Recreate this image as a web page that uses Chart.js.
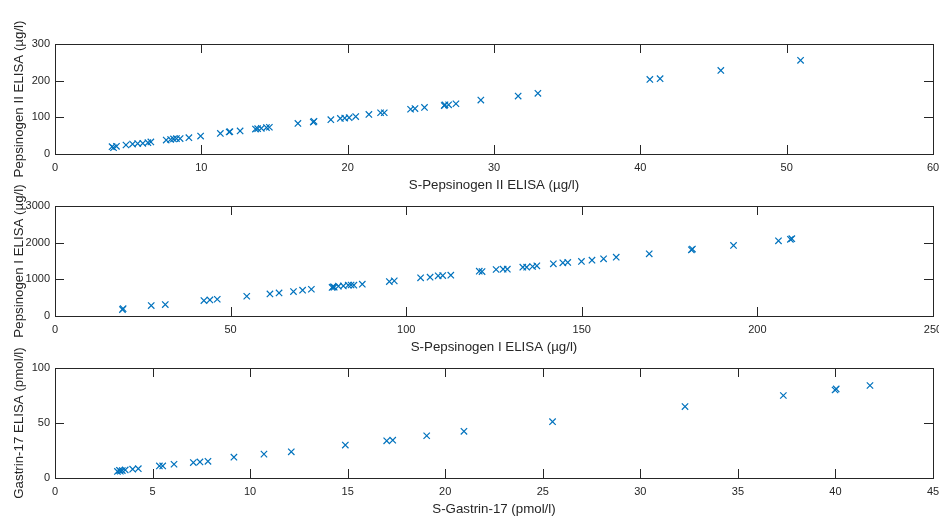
<!DOCTYPE html>
<html>
<head>
<meta charset="utf-8">
<script src="https://cdn.jsdelivr.net/npm/chart.js@4.4.0/dist/chart.umd.min.js"></script>
<style>
  html, body { margin: 0; padding: 0; background: #fff; overflow: hidden; }
  body { width: 939px; height: 518px; position: relative; }
  .panel { position: absolute; left: 0; width: 939px; height: 200px; }
</style>
</head>
<body>
<div class="panel" style="top:0px"><canvas id="chart1"></canvas></div>
<div class="panel" style="top:162px"><canvas id="chart2"></canvas></div>
<div class="panel" style="top:324px"><canvas id="chart3"></canvas></div>
<script>
// S-Pepsinogen II vs Pepsinogen II ELISA
const pg2X = [3.9, 4.0, 4.2, 4.85, 5.3, 5.65, 6.0, 6.35, 6.55, 7.6, 7.9, 8.1, 8.3, 8.55, 9.15, 9.95, 11.3, 11.9, 11.95, 12.65, 13.7, 13.85, 14.1, 14.45, 14.65, 16.6, 17.65, 17.7, 18.85, 19.5, 19.8, 20.1, 20.55, 21.45, 22.25, 22.5, 24.3, 24.6, 25.25, 26.6, 26.65, 26.9, 27.4, 29.1, 31.65, 33.0, 40.65, 41.35, 45.5, 50.95];
const pg2Y = [20, 17, 21, 24.5, 27, 28.5, 29, 31, 33, 38, 39.5, 41, 42, 42, 44.5, 49, 56, 60, 61, 63, 68, 69, 70, 72, 73, 83.5, 87, 89, 93.5, 97, 98, 99, 102, 108, 112.5, 112.5, 122, 124, 127, 132, 134, 134, 137, 147, 158, 165.5, 203.5, 205.5, 228, 255.5];

// S-Pepsinogen I vs Pepsinogen I ELISA
const pg1X = [19.2, 19.4, 27.4, 31.4, 42.4, 44.1, 46.2, 54.6, 61.2, 63.8, 67.9, 70.5, 73.0, 78.9, 79.2, 79.5, 80.7, 82.1, 83.5, 84.3, 85.1, 87.5, 95.2, 96.6, 104.1, 106.8, 109.1, 110.4, 112.7, 120.8, 121.6, 125.6, 127.6, 128.8, 133.2, 134.3, 136.0, 137.2, 141.9, 144.6, 146.0, 149.9, 152.9, 156.2, 159.8, 169.2, 181.2, 181.5, 193.2, 206.0, 209.4, 209.8];
const pg1Y = [175, 200, 284, 311, 421, 438, 457, 539, 602, 629, 666, 703, 730, 780, 795, 785, 812, 821, 840, 845, 840, 867, 940, 958, 1040, 1060, 1095, 1104, 1113, 1222, 1213, 1268, 1277, 1277, 1332, 1332, 1350, 1368, 1423, 1450, 1460, 1487, 1523, 1560, 1605, 1696, 1805, 1825, 1925, 2051, 2090, 2110];

// S-Gastrin-17 vs Gastrin-17 ELISA
const g17X = [3.2, 3.3, 3.35, 3.45, 3.6, 3.98, 4.27, 5.35, 5.52, 6.1, 7.09, 7.43, 7.84, 9.17, 10.71, 12.11, 14.88, 17.0, 17.31, 19.05, 20.96, 25.5, 32.29, 37.33, 39.98, 40.04, 41.77];
const g17Y = [6.0, 7.0, 6.2, 6.8, 7.3, 8.0, 8.5, 11.0, 11.0, 12.5, 14.0, 14.6, 15.2, 18.9, 21.7, 23.8, 29.9, 33.8, 34.4, 38.4, 42.4, 51.2, 64.9, 75.0, 80.0, 81.0, 84.1];

const xLabels = ["S-Pepsinogen II ELISA (µg/l)", "S-Pepsinogen I ELISA (µg/l)", "S-Gastrin-17 (pmol/l)"];
const yLabels = ["Pepsinogen II ELISA (µg/l)", "Pepsinogen I ELISA (µg/l)", "Gastrin-17 ELISA (pmol/l)"];
const xMax = [60, 250, 45];
const xStep = [10, 50, 5];
const yMax = [300, 3000, 100];
const yStep = [100, 1000, 50];

const FONT = "'Liberation Sans', Arial, Helvetica, sans-serif";
const AXIS_COLOR = "#262626";
const MARK_COLOR = "#0072BD";

// box around the axes with inward ticks on all four sides (matlab look)
const boxTicks = {
  id: "boxTicks",
  afterDatasetsDraw(chart) {
    const { ctx, chartArea: a, scales } = chart;
    const len = 9;
    ctx.save();
    ctx.strokeStyle = AXIS_COLOR;
    ctx.lineWidth = 1;
    ctx.beginPath();
    scales.x.ticks.forEach((t) => {
      const px = Math.round(scales.x.getPixelForValue(t.value)) + 0.5;
      ctx.moveTo(px, a.bottom); ctx.lineTo(px, a.bottom - len);
      ctx.moveTo(px, a.top); ctx.lineTo(px, a.top + len);
    });
    scales.y.ticks.forEach((t) => {
      const py = Math.round(scales.y.getPixelForValue(t.value)) + 0.5;
      ctx.moveTo(a.left, py); ctx.lineTo(a.left + len, py);
      ctx.moveTo(a.right, py); ctx.lineTo(a.right - len, py);
    });
    ctx.stroke();
    ctx.strokeRect(Math.round(a.left) + 0.5, Math.round(a.top) + 0.5,
      Math.round(a.right - a.left), Math.round(a.bottom - a.top));
    ctx.restore();
  },
};

function makeChart(id, xs, ys, i) {
  const points = xs.map((x, k) => ({ x: x, y: ys[k] }));
  return new Chart(document.getElementById(id), {
    type: "scatter",
    data: {
      datasets: [{
        data: points,
        pointStyle: "crossRot",
        pointRadius: 4.5,
        pointHoverRadius: 4.5,
        borderColor: MARK_COLOR,
        backgroundColor: MARK_COLOR,
        borderWidth: 1.2,
      }],
    },
    options: {
      responsive: true,
      maintainAspectRatio: false,
      animation: false,
      events: [],
      layout: { padding: { top: 44, right: 6, bottom: 0, left: 0 } },
      plugins: { legend: { display: false }, tooltip: { enabled: false } },
      scales: {
        x: {
          type: "linear",
          min: 0,
          max: xMax[i],
          border: { display: false },
          grid: { display: false, drawTicks: false },
          ticks: {
            stepSize: xStep[i],
            padding: 7,
            maxRotation: 0,
            color: AXIS_COLOR,
            font: { family: FONT, size: 11 },
          },
          title: {
            display: true,
            text: xLabels[i],
            color: AXIS_COLOR,
            padding: { top: 7, bottom: 7 },
            font: { family: FONT, size: 13.3 },
          },
          afterFit(scale) {
            scale.height = 46;
            scale.paddingLeft = 0;
            scale.paddingRight = 0;
          },
        },
        y: {
          type: "linear",
          min: 0,
          max: yMax[i],
          border: { display: false },
          grid: { display: false, drawTicks: false },
          ticks: {
            stepSize: yStep[i],
            padding: 5,
            color: AXIS_COLOR,
            font: { family: FONT, size: 11 },
            callback: (v) => String(v),
          },
          title: {
            display: true,
            text: yLabels[i],
            color: AXIS_COLOR,
            padding: 11,
            font: { family: FONT, size: 13.3 },
          },
          afterFit(scale) { scale.width = 55; },
        },
      },
    },
    plugins: [boxTicks],
  });
}

makeChart("chart1", pg2X, pg2Y, 0);
makeChart("chart2", pg1X, pg1Y, 1);
makeChart("chart3", g17X, g17Y, 2);
</script>
</body>
</html>
